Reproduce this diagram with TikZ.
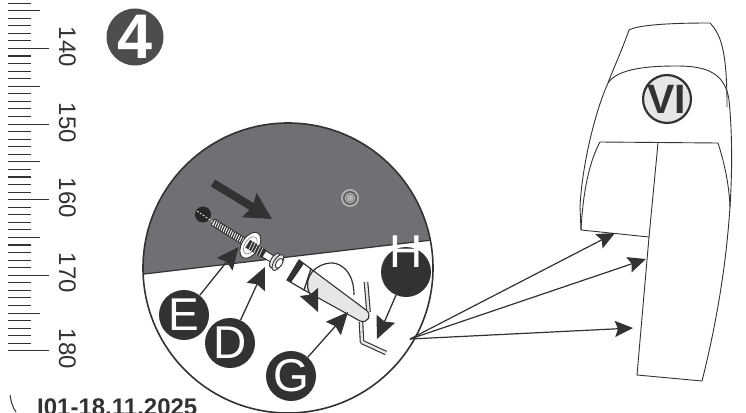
\documentclass[tikz,border=0pt]{standalone}
\usepackage{fontspec}
\setmainfont{Liberation Sans}
\usetikzlibrary{arrows.meta}

\definecolor{inkdark}{HTML}{333133}
\definecolor{plategray}{HTML}{6F7073}
\definecolor{badgegray}{HTML}{4D4D4F}
\definecolor{lightgray}{HTML}{E5E6E7}

\tikzset{
    tick/.style={line width=1.1pt, draw=inkdark},
    bullet/.style={circle, fill=inkdark, minimum size=50pt, inner sep=0pt, text=white, font=\fontsize{46}{46}\selectfont},
    pointer/.style={line width=1.3pt, draw=inkdark, -{Stealth[length=22pt,width=20pt,inset=3pt]}},
    fan/.style={line width=1.2pt, draw=inkdark, -{Stealth[length=18pt,width=16pt,inset=3pt]}},
    outline/.style={line width=0.9pt, draw=inkdark},
    hexkey/.style={double=lightgray, double distance=2.4pt, draw=inkdark, line width=1.1pt, line join=round},
}

\begin{document}
\begin{tikzpicture}[x=1pt, y=-1pt]
    \useasboundingbox (0,0) rectangle (746,412);

    % La regle graduee a gauche
    \foreach \i in {0,...,46} {
        \draw[tick] (8, 3.1+7.56*\i) -- (31, 3.1+7.56*\i);
    }
    \foreach \i in {1,11,21,31,41} {
        \draw[tick] (8, 3.1+7.56*\i) -- (40, 3.1+7.56*\i);
    }
    \foreach \i in {6,16,26,36,46} {
        \draw[tick] (8, 3.1+7.56*\i) -- (49, 3.1+7.56*\i);
    }
    \foreach \v/\y in {140/47, 150/123, 160/198, 170/273, 180/349} {
        \node[rotate=-90, text=inkdark, font=\fontsize{24}{24}\selectfont] (lbl\v) at (67.5,\y) {\v};
    }

    % Le numero de l'etape
    \node[circle, fill=badgegray, minimum size=57pt, inner sep=0pt, text=white, font=\fontsize{63}{63}\selectfont\bfseries] (step4) at (135,37) {4};

    % Le disque de detail
    \coordinate (O) at (288,268);
    \begin{scope}
        \clip (O) circle (145);
        \fill[plategray] (130,275.7) -- (445,238.5) -- (445,100) -- (130,100) -- cycle;
        \draw[line width=1.2pt, draw=inkdark] (130,275.7) -- (445,238.5);
    \end{scope}
    \draw[line width=1.6pt, draw=inkdark] (O) circle (145);

    % Le petit rivet
    \fill[gray!60] (350,198) circle (9);
    \fill[plategray!80!black] (350,198) circle (7);
    \fill[gray!60] (350,198) circle (5.5);
    \draw[inkdark!70, line width=0.5pt] (350,198) circle (4);

    % Le trou et la vis
    \fill[black!85] (203,214.5) circle (8);
    \draw[white, line width=0.8pt, dash pattern=on 2pt off 1.5pt] (197,211) -- (213,222);
    \begin{scope}[shift={(213,222)}, rotate=-32]
        \draw[outline, fill=white] (0,-3.5) rectangle (38,3.5);
        \foreach \s in {2,4.4,...,38} {
            \draw[inkdark, line width=1.2pt] (\s,-3.5) -- (\s+1,3.5);
        }
        \draw[outline, fill=white] (60,-3.5) rectangle (73,3.5);
        \draw[outline, fill=white] (44,0) ellipse (8.5 and 14.4);
        \draw[line width=0.6pt, draw=inkdark!60] (44,0) ellipse (5.5 and 9.5);
        \fill[inkdark] (41,-4.5) rectangle (60,4.5);
        \foreach \s in {44,47,...,58} {
            \draw[lightgray, line width=0.7pt] (\s,-4.5) -- (\s+1,4.5);
        }
        \draw[outline, fill=lightgray] (73,0) ellipse (4 and 8);
        \draw[outline, fill=lightgray] (76.5,0) ellipse (4 and 9);
        \draw[outline, fill=white] (78,0) ellipse (3 and 5.5);
    \end{scope}

    % Grosse fleche de direction
    \coordinate (pushA) at (213,183);
    \coordinate (pushB) at (272,219);
    \draw[line width=8pt, draw=inkdark, -{Stealth[length=26pt,width=27pt,inset=3pt]}] (pushA) -- (pushB);

    % La cle six pans
    \draw[hexkey] (366,282) -- (368.5,312);
    \draw[hexkey] (361,322) -- (362,342) -- (386,353);
    \draw[outline, fill=white, line width=1.2pt] (299,260) -- (311,269) -- (304,290) -- (287,280) -- cycle;
    \fill[inkdark] (299,260) -- (304,263.5) -- (291,282.5) -- (287,280) -- cycle;
    \draw[outline, fill=lightgray, line width=1.1pt] (311,269) -- (366,310) .. controls (372,314) and (369,324) .. (360,321) -- (304,290) -- cycle;

    % La fleche courbe de rotation
    \coordinate (turnS) at (354,295);
    \coordinate (turnT) at (318,312);
    \draw[pointer, line width=1.2pt] (turnS) .. controls (354,272) and (341,263) .. (332,263) .. controls (316,263) and (303,277) .. (309,292) -- (turnT);

    % Les reperes E, D, G, H
    \node[bullet] (E) at (184,315) {E};
    \node[bullet] (D) at (230,343) {D};
    \node[bullet] (G) at (291,376) {G};
    \node[bullet] (H) at (406,272) {};
    \node[text=white, font=\fontsize{46}{46}\selectfont] (Htxt) at (406,252) {H};

    \coordinate (tipE) at (238.5,247);
    \coordinate (tipD) at (265,267);
    \coordinate (tipG) at (348,312);
    \coordinate (tipH) at (377,339);
    \draw[pointer] (E) -- (tipE);
    \draw[pointer] (D) -- (tipD);
    \draw[pointer] (G) -- (tipG);
    \draw[pointer] (H) -- (tipH);

    % Le siege
    \draw[outline] (608,83) .. controls (612,72) and (622,50) .. (629,30)
        .. controls (640,24) and (680,23) .. (710,23)
        .. controls (722,35) and (727,55) .. (727,107);
    \draw[outline] (608,83) .. controls (595,112) and (582,165) .. (580,207) -- (581,230);
    \draw[outline] (608,83) .. controls (618,68) and (650,66) .. (677,66)
        .. controls (705,66) and (725,72) .. (729,100)
        .. controls (734,150) and (735,250) .. (702,381);
    \draw[outline] (702,381) -- (637,375) -- (649,237) -- (658,143);
    \draw[outline] (600,142) -- (718,143) .. controls (725,165) and (729,185) .. (730,207);
    \draw[outline] (600,142) .. controls (590,160) and (583,190) .. (581,230) -- (649,237);

    % Le repere VI
    \node[circle, fill=lightgray, draw=inkdark, line width=2.2pt, minimum size=47pt, inner sep=0pt, text=inkdark, font=\fontsize{41}{41}\selectfont\bfseries] (VI) at (667,99) {VI};

    % Les trois fleches vers le siege
    \coordinate (fanO) at (410,339);
    \coordinate (tipA) at (615,233);
    \coordinate (tipB) at (646,259);
    \coordinate (tipC) at (633,328);
    \draw[fan] (fanO) -- (tipA);
    \draw[fan] (fanO) -- (tipB);
    \draw[fan] (fanO) -- (tipC);

    % Reference en bas de page
    \draw[line width=1pt, draw=inkdark] (10,395) .. controls (11,402) and (13,408) .. (16,412);
    \node[anchor=base west, inner sep=0pt, text=inkdark, font=\fontsize{24}{24}\selectfont\bfseries] (ref) at (37,415.5) {I01-18.11.2025};
\end{tikzpicture}
\end{document}
